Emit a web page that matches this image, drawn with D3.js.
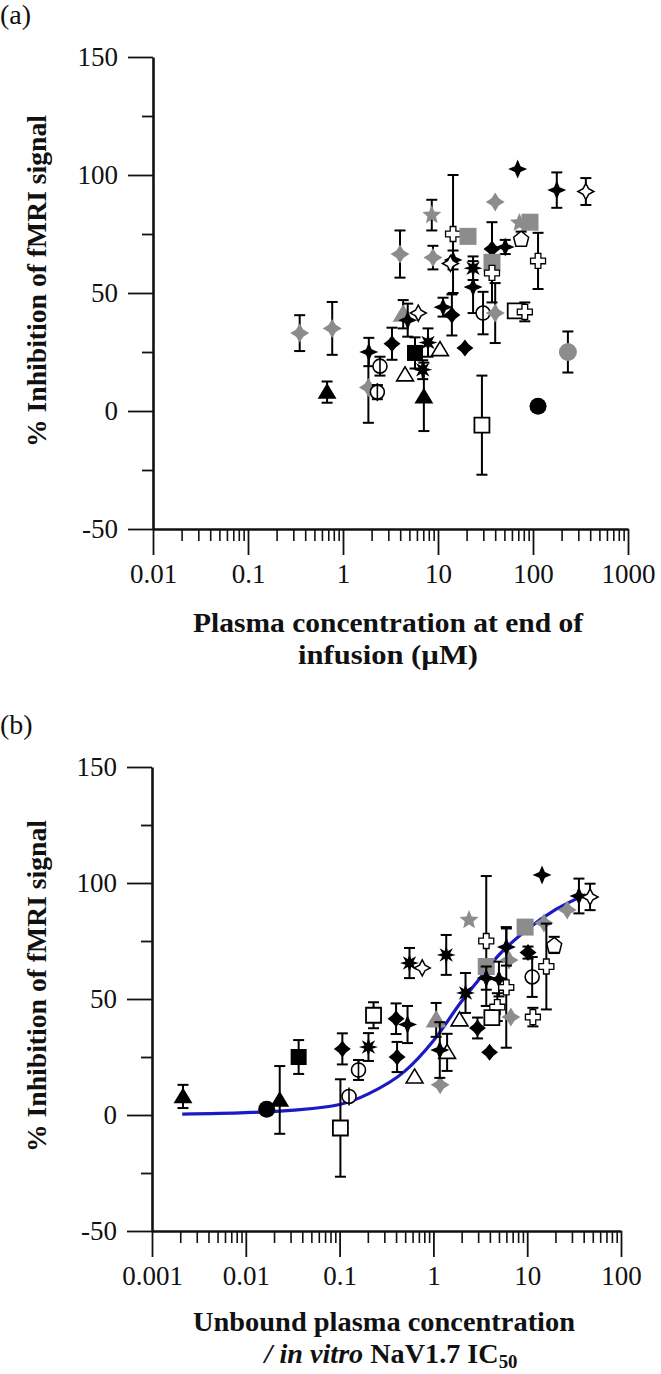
<!DOCTYPE html>
<html><head><meta charset="utf-8">
<script src="https://cdn.jsdelivr.net/npm/d3@7"></script>
<style>
body{margin:0;background:#fff}
svg{display:block}
text{font-family:"Liberation Serif","Times New Roman",serif;fill:#111}
</style>
</head><body>
<script>
// ---------- data ----------
const yTickVals = [150, 100, 50, 0, -50];
const yTickLabels = ["150", "100", "50", "0", "-50"];
const yMinorVals = [125, 75, 25, -25];

const aTickVals = [0.01, 0.1, 1, 10, 100, 1000];
const aTickLabels = ["0.01", "0.1", "1", "10", "100", "1000"];
const bTickVals = [0.001, 0.01, 0.1, 1, 10, 100];
const bTickLabels = ["0.001", "0.01", "0.1", "1", "10", "100"];

// panel (a): plasma concentration (µM) vs % inhibition
const aX = [0.35,0.77,0.68,1.87,1.85,2.45,2.3,3.28,3.98,8.6,8.85,14.4,14.4,13.5,4.3,4.8,6.2,5.73,7.85,10.5,4.5,6.9,7.1,69,178,360,40,93,72,75,113,51,37,37,37,20.7,23.4,23.4,29.8,40,65,82,233,113,29,19.2,11.3,14];
const aY = [33,35,8,25,10,19,8,28.5,66.5,83,65,75,64,62.5,41,38.5,41.5,24.6,29,26,15.3,17.5,6,102.5,93.6,93,88.6,80,79.7,73,63.6,69.5,68.6,63,58.5,74,60.5,52.5,41.5,41.5,42.4,42,25,2,-6,26.7,44,40.7];
const aErr = [7.6,11.2,4.5,6,15,4,3,6.8,10,6.5,5,25,4,0,6,7,0,6.6,6,0,0,4,14.5,0,7.5,5.7,0,2.5,0,3,11.9,3,0,17,0,2.8,5,11,9,12.7,0,4,8.7,0,21,0,4,8.7];
const aShape = ["gdia","gdia","btri","star4","gdia","ophi","ophi","dia","gdia","gstar","gdia","ocog","star4","ostar4","gtri","star4","ostar4","bsq","ast","otri","otri","ast","btri","star4","star4","ostar4","gdia","gsq","gstar","opent","ocog","star4","dia","gsq","ocog","gsq","ast","star4","ophi","gdia","osq","ocog","gcirc","bcirc","osq","dia","star4","dia"];

// panel (b): unbound concentration / IC50 vs % inhibition
const bX = [0.00214,0.0167,0.023,0.0366,0.107,0.102,0.126,0.159,0.203,0.23,0.40,0.41,0.53,0.556,0.76,1.37,2.4,0.63,1.07,1.18,1.4,2.2,1.9,2.95,3.97,3.66,3.66,3.66,4.8,5.0,5.98,6.7,9.5,14.4,35.6,46.8,26.7,15.1,19.4,16,10.2,11.3,11.5,6.4,6.0,4.2,1.17];
const bY = [8,2.5,6.5,25,28.5,-5.6,8,19.4,29.3,43,41.5,25,39,65.5,63.4,69,84,16.4,41,13,27,52.6,41,37.5,27,75,64,59,46.5,58.6,55,42.2,81,103.5,94.4,94,88.4,82.8,73.3,64,70,59.5,42.2,66.8,72.4,42,28];
const bErr = [5,0,14.6,7.3,6.7,21,0,4.3,6,5.6,6.6,6.5,8,6.5,0,8.6,0,0,7.3,0,8,8.6,0,4.5,0,28,3,5,6,7.5,26,0,2.4,0,7.5,5.7,0,0,3.5,18.5,2.6,8.6,4,0,8,0,12];
const bShape = ["btri","bcirc","btri","bsq","dia","osq","ophi","ophi","ast","osq","dia","dia","star4","ast","ostar4","ast","gstar","otri","gtri","gdia","otri","ast","otri","dia","dia","ocog","gsq","star4","ocog","star4","ocog","gdia","gsq","star4","star4","ostar4","gdia","gdia","opent","ocog","dia","ophi","ocog","gdia","star4","osq","star4"];

// fitted curve (panel b)
const curveX = [0.0021,0.01,0.03,0.1,0.2,0.5,1,2,3,5,10,20,42];
const curveY = [0.4,1.0,2.0,4.5,9,19,32,49,58,69,80,88.5,95];

// ---------- drawing ----------
const W = 661, H = 1374;
const GREY = "#8c8c8c";
const svg = d3.select("body").append("svg").attr("width", W).attr("height", H);
svg.append("rect").attr("width", W).attr("height", H).attr("fill", "#fff");

function star(k) {
  return {draw(ctx, r) {
    const w = r * k;
    ctx.moveTo(0, -r); ctx.lineTo(w, -w); ctx.lineTo(r, 0); ctx.lineTo(w, w);
    ctx.lineTo(0, r); ctx.lineTo(-w, w); ctx.lineTo(-r, 0); ctx.lineTo(-w, -w); ctx.closePath();
  }};
}
const eightStar = {draw(ctx, r) {
  const n = 8;
  for (let i = 0; i < n * 2; i++) {
    const a = Math.PI * i / n - Math.PI / 2;
    const rr = i % 2 ? r * 0.45 : r;
    if (i === 0) ctx.moveTo(rr * Math.cos(a), rr * Math.sin(a));
    else ctx.lineTo(rr * Math.cos(a), rr * Math.sin(a));
  }
  ctx.closePath();
}};
const fiveStar = {draw(ctx, r) {
  for (let i = 0; i < 10; i++) {
    const a = Math.PI * i / 5 - Math.PI / 2;
    const rr = i % 2 ? r * 0.45 : r;
    if (i === 0) ctx.moveTo(rr * Math.cos(a), rr * Math.sin(a));
    else ctx.lineTo(rr * Math.cos(a), rr * Math.sin(a));
  }
  ctx.closePath();
}};
const square = {draw(ctx, r) { ctx.rect(-r, -r, 2 * r, 2 * r); }};
const tri = {draw(ctx, r) { ctx.moveTo(0, -r); ctx.lineTo(r * 1.05, r * 0.75); ctx.lineTo(-r * 1.05, r * 0.75); ctx.closePath(); }};
const circ = {draw(ctx, r) { ctx.moveTo(r, 0); ctx.arc(0, 0, r, 0, 2 * Math.PI); }};
const cog = {draw(ctx, r) {
  const a = r * 0.38;
  ctx.moveTo(-a, -r); ctx.lineTo(a, -r); ctx.lineTo(a, -a); ctx.lineTo(r, -a); ctx.lineTo(r, a);
  ctx.lineTo(a, a); ctx.lineTo(a, r); ctx.lineTo(-a, r); ctx.lineTo(-a, a); ctx.lineTo(-r, a);
  ctx.lineTo(-r, -a); ctx.lineTo(-a, -a); ctx.closePath();
}};
const house = {draw(ctx, r) {
  ctx.moveTo(0, -r); ctx.lineTo(r, -r * 0.2); ctx.lineTo(r * 0.7, r); ctx.lineTo(-r * 0.7, r); ctx.lineTo(-r, -r * 0.2); ctx.closePath();
}};

const STYLES = {
  dia:    {type: star(0.44), r: 8.5, fill: "#000", stroke: "none"},
  star4:  {type: star(0.3), r: 9.5, fill: "#000", stroke: "none"},
  gdia:   {type: star(0.38), r: 9.5, fill: GREY, stroke: "none"},
  ostar4: {type: star(0.35), r: 8, fill: "#fff", stroke: "#000", sw: 1.5},
  gstar:  {type: fiveStar, r: 10, fill: GREY, stroke: "none"},
  gsq:    {type: square, r: 8.5, fill: GREY, stroke: "none"},
  osq:    {type: square, r: 7.5, fill: "#fff", stroke: "#000", sw: 1.8},
  bsq:    {type: square, r: 8, fill: "#000", stroke: "none"},
  btri:   {type: tri, r: 9, fill: "#000", stroke: "none"},
  otri:   {type: tri, r: 8, fill: "#fff", stroke: "#000", sw: 1.6},
  gtri:   {type: tri, r: 10, fill: GREY, stroke: "none"},
  bcirc:  {type: circ, r: 8.5, fill: "#000", stroke: "none"},
  gcirc:  {type: circ, r: 9, fill: GREY, stroke: "none"},
  ophi:   {type: circ, r: 7, fill: "#fff", stroke: "#000", sw: 1.6, bar: true},
  ocog:   {type: cog, r: 7.5, fill: "#fff", stroke: "#000", sw: 1.3},
  opent:  {type: house, r: 7.5, fill: "#fff", stroke: "#000", sw: 1.5},
  ast:    {type: eightStar, r: 9.5, fill: "#000", stroke: "none"}
};

function boldText(g, x, y, len, txt) {
  return g.append("text").attr("x", x).attr("y", y).attr("text-anchor", "middle")
    .attr("font-size", 27).attr("font-weight", "bold")
    .attr("textLength", len).attr("lengthAdjust", "spacingAndGlyphs").text(txt);
}

function panel(cfg) {
  const g = svg.append("g");
  const x = d3.scaleLog().domain(cfg.xDomain).range([cfg.left, cfg.right]);
  const y = d3.scaleLinear().domain([-50, 150]).range([cfg.bottom, cfg.top]);

  // panel label
  g.append("text").attr("x", 0).attr("y", cfg.labelY).attr("font-size", 28).text(cfg.label);

  // minor x ticks
  const minors = [];
  const [d0, d1] = cfg.xDomain;
  for (let e = Math.log10(d0); e < Math.log10(d1) - 0.01; e++) {
    for (let m = 2; m <= 9; m++) minors.push(m * Math.pow(10, e));
  }
  g.append("g").attr("transform", `translate(0,${cfg.bottom})`)
    .call(d3.axisBottom(x).tickValues(minors).tickSize(12).tickSizeOuter(0).tickFormat(""))
    .call(s => s.select(".domain").remove())
    .call(s => s.selectAll("line").attr("stroke", "#111").attr("stroke-width", 1.6));
  const xa = g.append("g").attr("transform", `translate(0,${cfg.bottom})`)
    .call(d3.axisBottom(x).tickValues(cfg.xTicks).tickSize(26).tickSizeOuter(0).tickPadding(9)
      .tickFormat((d, i) => cfg.xLabels[i]));
  xa.select(".domain").attr("stroke", "#111").attr("stroke-width", 2.6);
  xa.selectAll("line").attr("stroke", "#111").attr("stroke-width", 1.8);
  xa.selectAll("text").attr("font-size", 27).attr("fill", "#222");

  // y axis
  g.append("g").attr("transform", `translate(${cfg.left},0)`)
    .call(d3.axisLeft(y).tickValues(yMinorVals).tickSize(11).tickFormat(""))
    .call(s => s.select(".domain").remove())
    .call(s => s.selectAll("line").attr("stroke", "#111").attr("stroke-width", 1.8));
  const ya = g.append("g").attr("transform", `translate(${cfg.left},0)`)
    .call(d3.axisLeft(y).tickValues(yTickVals).tickSize(25).tickSizeOuter(0).tickPadding(10)
      .tickFormat((d, i) => yTickLabels[i]));
  ya.select(".domain").attr("stroke", "#111").attr("stroke-width", 2.6);
  ya.selectAll("line").attr("stroke", "#111").attr("stroke-width", 1.8);
  ya.selectAll("text").attr("font-size", 27).attr("fill", "#222");

  // y title
  g.append("text")
    .attr("transform", `translate(${cfg.yTitleX},${cfg.yTitleY}) rotate(-90)`)
    .attr("text-anchor", "middle").attr("font-size", 27).attr("font-weight", "bold")
    .attr("textLength", 332).attr("lengthAdjust", "spacingAndGlyphs")
    .text("% Inhibition of fMRI signal");

  // x title
  cfg.xTitle(g);

  // curve
  if (cfg.curve) {
    const line = d3.line().x(d => x(d[0])).y(d => y(d[1])).curve(d3.curveMonotoneX);
    g.append("path").datum(d3.zip(curveX, curveY)).attr("d", line)
      .attr("fill", "none").attr("stroke", "#1b1bc4").attr("stroke-width", 3.2);
  }

  // points
  const pts = cfg.xs.map((v, i) => ({x: v, y: cfg.ys[i], e: cfg.errs[i], s: cfg.shapes[i]}));
  const pg = g.append("g");
  pts.forEach(p => {
    const cx = x(p.x), cy = y(p.y);
    const st = STYLES[p.s];
    if (p.e > 0) {
      const y0 = y(p.y - p.e), y1 = y(p.y + p.e);
      pg.append("line").attr("x1", cx).attr("x2", cx).attr("y1", y0).attr("y2", y1)
        .attr("stroke", "#000").attr("stroke-width", 2);
      [y0, y1].forEach(yy => pg.append("line").attr("x1", cx - 5.5).attr("x2", cx + 5.5)
        .attr("y1", yy).attr("y2", yy).attr("stroke", "#000").attr("stroke-width", 2));
    }
    pg.append("path").attr("transform", `translate(${cx},${cy})`)
      .attr("d", d3.symbol().type(st.type).size(st.r)())
      .attr("fill", st.fill).attr("stroke", st.stroke).attr("stroke-width", st.sw || 0);
    if (st.bar) {
      pg.append("line").attr("x1", cx).attr("x2", cx).attr("y1", cy - st.r - 2).attr("y2", cy + st.r + 2)
        .attr("stroke", "#000").attr("stroke-width", 1.6);
    }
  });
}

panel({
  label: "(a)", labelY: 24,
  xDomain: [0.01, 1000], left: 153, right: 628, top: 57, bottom: 529,
  xTicks: aTickVals, xLabels: aTickLabels,
  yTitleX: 46, yTitleY: 281,
  xs: aX, ys: aY, errs: aErr, shapes: aShape,
  xTitle: g => {
    boldText(g, 388, 632, 390, "Plasma concentration at end of");
    boldText(g, 388, 664, 180, "infusion (\u00B5M)");
  }
});

panel({
  label: "(b)", labelY: 734,
  xDomain: [0.001, 100], left: 152, right: 621, top: 767, bottom: 1231,
  xTicks: bTickVals, xLabels: bTickLabels,
  yTitleX: 46, yTitleY: 986,
  xs: bX, ys: bY, errs: bErr, shapes: bShape, curve: true,
  xTitle: g => {
    boldText(g, 384, 1331, 382, "Unbound plasma concentration");
    const t = g.append("text").attr("x", 391).attr("y", 1363).attr("text-anchor", "middle")
      .attr("font-size", 27).attr("font-weight", "bold")
      .attr("textLength", 253).attr("lengthAdjust", "spacingAndGlyphs");
    t.append("tspan").attr("font-style", "italic").text("/ in vitro");
    t.append("tspan").text(" NaV1.7 IC");
    t.append("tspan").attr("font-size", 18).attr("dy", 5).text("50");
  }
});
</script>
</body></html>
